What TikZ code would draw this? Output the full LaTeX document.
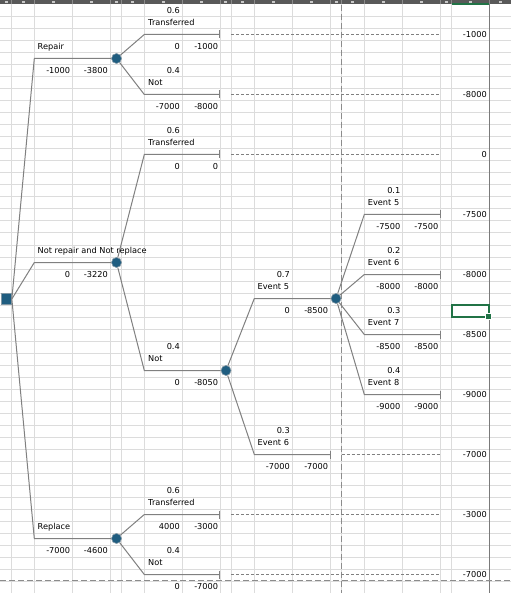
\documentclass[tikz,border=0pt]{standalone}
\usepackage{fontspec}
\setmainfont{DejaVu Sans}
\usetikzlibrary{arrows.meta}
\definecolor{nodeblue}{HTML}{1F5D80}
\definecolor{nodeedge}{HTML}{8096A3}
\definecolor{gridc}{HTML}{DCDCDC}
\definecolor{branchc}{HTML}{808080}
\definecolor{hdr}{HTML}{595959}
\definecolor{hdrsep}{HTML}{8A8A8A}
\definecolor{hdrmark}{HTML}{C8C8C8}
\definecolor{xlgreen}{HTML}{217346}
\definecolor{pbc}{HTML}{8C8C8C}
\definecolor{frz}{HTML}{7A7A7A}
\tikzset{
 lbl/.style={font=\fontsize{8.2}{9.5}\selectfont, inner sep=0pt, text=black},
 branch/.style={draw=branchc, line width=1pt},
 endbar/.style={branch, -{Bar[width=8pt,line width=1pt]}},
 leader/.style={draw=branchc, line width=0.8pt, dash pattern=on 3pt off 2pt},
 chance/.style={circle, fill=nodeblue, draw=nodeedge, line width=0.6pt, minimum size=10pt, inner sep=0pt},
 decision/.style={rectangle, fill=nodeblue, draw=nodeedge, line width=0.6pt, minimum width=10.5pt, minimum height=11pt, inner sep=0pt},
 gridline/.style={draw=gridc, line width=1pt},
 pagebreak/.style={draw=pbc, line width=1pt, dash pattern=on 6pt off 3pt},
}
\newcommand\txtW[4]{\node[lbl,anchor=base west] (#1) at (#2,#3+2.4) {#4};}
\newcommand\txtE[4]{\node[lbl,anchor=base east] (#1) at (#2,#3+2.4) {#4};}
\begin{document}
\begin{tikzpicture}[x=1pt,y=-1pt]
\useasboundingbox (0,0) rectangle (511,593);
\fill[white] (0,0) rectangle (511,593);
% grid
\foreach \gx in {11.7,34.3,72.7,110.7,121.3,144.3,182.3,220.3,231.3,254.3,292.7,330.7,341.3,364.3,402.7,440.7,451.7}
  \draw[gridline] (\gx,4.5) -- (\gx,593);
\foreach \k in {0,...,48}
  \draw[gridline] (0,17+12*\k) -- (511,17+12*\k);
% header
\fill[hdr] (0,0) rectangle (511,4.5);
\foreach \gx in {11.7,34.3,72.7,110.7,121.3,144.3,182.3,220.3,231.3,254.3,292.7,330.7,341.3,364.3,402.7,440.7,451.7,489.3}
  \draw[hdrsep, line width=0.8pt] (\gx,0) -- (\gx,4.5);
\foreach \cx in {6,23,53.5,91.7,116,132.8,163.3,201.3,225.8,242.8,273.5,311.7,336,352.8,383.5,421.7,446.2,470.5,500}
  \fill[hdrmark] (\cx-1.5,1.2) rectangle (\cx+1.5,3.5);
\fill[xlgreen] (451.7,3) rectangle (489.3,5);
% frozen / page lines
\draw[frz, line width=1.2pt] (489.3,4.5) -- (489.3,593);
\draw[pagebreak] (0,580.5) -- (511,580.5);
\draw[pagebreak] (341.3,5) -- (341.3,593);
% selected cell
\draw[xlgreen, line width=2pt] (451.7,305) rectangle (489.3,317);
\fill[xlgreen, draw=white, line width=0.8pt] (485.8,313) rectangle (491.8,319);

% ---------- tree nodes ----------
\node[decision] (D) at (6.3,299) {};
\node[chance] (C1) at (116.5,58.5) {};
\node[chance] (C2) at (116.5,262.5) {};
\node[chance] (C3) at (226,370.5) {};
\node[chance] (C4) at (336,298.5) {};
\node[chance] (C5) at (116.5,538.5) {};

% ---------- Repair ----------
\coordinate (rA) at (34.3,58.5);
\draw[branch] (D.east) -- (rA) -- (C1);
\txtW{tRep}{37.5}{47}{Repair}
\txtE{vRep1}{70.3}{71}{-1000}
\txtE{vRep2}{108}{71}{-3800}
% Transferred
\coordinate (r1a) at (144.3,34.5); \coordinate (r1b) at (220.3,34.5);
\coordinate (r1c) at (231.3,34.5); \coordinate (r1d) at (440.5,34.5);
\draw[endbar] (C1) -- (r1a) -- (r1b);
\draw[leader] (r1c) -- (r1d);
\txtE{p11}{180}{11}{0.6}
\txtW{l11}{148}{23}{Transferred}
\txtE{a11}{180}{47}{0}
\txtE{b11}{218.3}{47}{-1000}
\txtE{e11}{487}{35}{-1000}
% Not
\coordinate (r2a) at (144.3,94.5); \coordinate (r2b) at (220.3,94.5);
\coordinate (r2c) at (231.3,94.5); \coordinate (r2d) at (440.5,94.5);
\draw[endbar] (C1) -- (r2a) -- (r2b);
\draw[leader] (r2c) -- (r2d);
\txtE{p12}{180}{71}{0.4}
\txtW{l12}{148}{83}{Not}
\txtE{a12}{180}{107}{-7000}
\txtE{b12}{218.3}{107}{-8000}
\txtE{e12}{487}{95}{-8000}

% ---------- Not repair and Not replace ----------
\coordinate (nA) at (34.3,262.5);
\draw[branch] (D.east) -- (nA) -- (C2);
\txtW{tNot}{37.5}{251}{Not repair and Not replace}
\txtE{vNot1}{70.3}{275}{0}
\txtE{vNot2}{108}{275}{-3220}
% Transferred
\coordinate (n1a) at (144.3,154.5); \coordinate (n1b) at (220.3,154.5);
\coordinate (n1c) at (231.3,154.5); \coordinate (n1d) at (440.5,154.5);
\draw[endbar] (C2) -- (n1a) -- (n1b);
\draw[leader] (n1c) -- (n1d);
\txtE{p21}{180}{131}{0.6}
\txtW{l21}{148}{143}{Transferred}
\txtE{a21}{180}{167}{0}
\txtE{b21}{218.3}{167}{0}
\txtE{e21}{487}{155}{0}
% Not
\coordinate (n2a) at (144.3,370.5);
\draw[branch] (C2) -- (n2a) -- (C3);
\txtE{p22}{180}{347}{0.4}
\txtW{l22}{148}{359}{Not}
\txtE{a22}{180}{383}{0}
\txtE{b22}{218.3}{383}{-8050}
% Event 5 (0.7)
\coordinate (m1a) at (254.3,298.5);
\draw[branch] (C3) -- (m1a) -- (C4);
\txtE{p31}{290}{275}{0.7}
\txtW{l31}{257.5}{287}{Event 5}
\txtE{a31}{290}{311}{0}
\txtE{b31}{328.3}{311}{-8500}
% Event 6 (0.3)
\coordinate (m2a) at (254.3,454.5); \coordinate (m2b) at (330.7,454.5);
\coordinate (m2c) at (341.7,454.5); \coordinate (m2d) at (440.5,454.5);
\draw[endbar] (C3) -- (m2a) -- (m2b);
\draw[leader] (m2c) -- (m2d);
\txtE{p32}{290}{431}{0.3}
\txtW{l32}{257.5}{443}{Event 6}
\txtE{a32}{290}{467}{-7000}
\txtE{b32}{328.3}{467}{-7000}
\txtE{e32}{487}{455}{-7000}
% C4 branches
\coordinate (k1a) at (364.3,214.5); \coordinate (k1b) at (440.5,214.5);
\draw[endbar] (C4) -- (k1a) -- (k1b);
\txtE{p41}{400.5}{191}{0.1}
\txtW{l41}{367.7}{203}{Event 5}
\txtE{a41}{400.5}{227}{-7500}
\txtE{b41}{438.5}{227}{-7500}
\txtE{e41}{487}{215}{-7500}
\coordinate (k2a) at (364.3,274.5); \coordinate (k2b) at (440.5,274.5);
\draw[endbar] (C4) -- (k2a) -- (k2b);
\txtE{p42}{400.5}{251}{0.2}
\txtW{l42}{367.7}{263}{Event 6}
\txtE{a42}{400.5}{287}{-8000}
\txtE{b42}{438.5}{287}{-8000}
\txtE{e42}{487}{275}{-8000}
\coordinate (k3a) at (364.3,334.5); \coordinate (k3b) at (440.5,334.5);
\draw[endbar] (C4) -- (k3a) -- (k3b);
\txtE{p43}{400.5}{311}{0.3}
\txtW{l43}{367.7}{323}{Event 7}
\txtE{a43}{400.5}{347}{-8500}
\txtE{b43}{438.5}{347}{-8500}
\txtE{e43}{487}{335}{-8500}
\coordinate (k4a) at (364.3,394.5); \coordinate (k4b) at (440.5,394.5);
\draw[endbar] (C4) -- (k4a) -- (k4b);
\txtE{p44}{400.5}{371}{0.4}
\txtW{l44}{367.7}{383}{Event 8}
\txtE{a44}{400.5}{407}{-9000}
\txtE{b44}{438.5}{407}{-9000}
\txtE{e44}{487}{395}{-9000}

% ---------- Replace ----------
\coordinate (pA) at (34.3,538.5);
\draw[branch] (D.east) -- (pA) -- (C5);
\txtW{tRpl}{37.5}{527}{Replace}
\txtE{vRpl1}{70.3}{551}{-7000}
\txtE{vRpl2}{108}{551}{-4600}
\coordinate (q1a) at (144.3,514.5); \coordinate (q1b) at (220.3,514.5);
\coordinate (q1c) at (231.3,514.5); \coordinate (q1d) at (440.5,514.5);
\draw[endbar] (C5) -- (q1a) -- (q1b);
\draw[leader] (q1c) -- (q1d);
\txtE{p51}{180}{491}{0.6}
\txtW{l51}{148}{503}{Transferred}
\txtE{a51}{180}{527}{4000}
\txtE{b51}{218.3}{527}{-3000}
\txtE{e51}{487}{515}{-3000}
\coordinate (q2a) at (144.3,574.5); \coordinate (q2b) at (220.3,574.5);
\coordinate (q2c) at (231.3,574.5); \coordinate (q2d) at (440.5,574.5);
\draw[endbar] (C5) -- (q2a) -- (q2b);
\draw[leader] (q2c) -- (q2d);
\txtE{p52}{180}{551}{0.4}
\txtW{l52}{148}{563}{Not}
\txtE{a52}{180}{587}{0}
\txtE{b52}{218.3}{587}{-7000}
\txtE{e52}{487}{575}{-7000}
\end{tikzpicture}
\end{document}
